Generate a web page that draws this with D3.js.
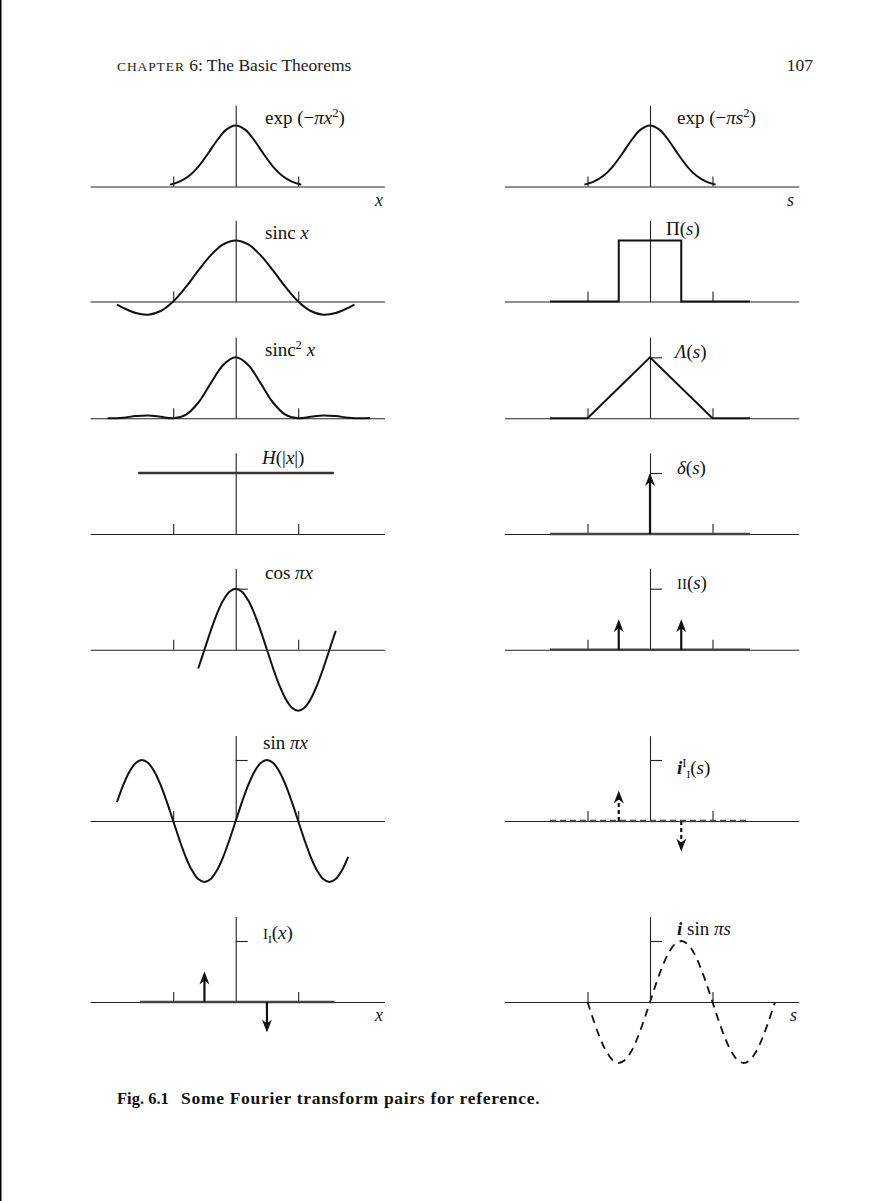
<!DOCTYPE html>
<html><head><meta charset="utf-8">
<script src="https://cdn.jsdelivr.net/npm/d3@7"></script>
<style>body{margin:0;background:#fff} svg{display:block}</style>
</head><body><script>
// ---------------- data ----------------
const unitTicks = [-1, 1];
const gaussX = [-1.05,-0.9,-0.75,-0.6,-0.45,-0.3,-0.15,0,0.15,0.3,0.45,0.6,0.75,0.9,1.05];
const gaussY = [0.031,0.079,0.171,0.323,0.529,0.754,0.932,1,0.932,0.754,0.529,0.323,0.171,0.079,0.031];
const sincX = [-1.9,-1.8,-1.6,-1.4,-1.2,-1,-0.8,-0.6,-0.4,-0.2,0,0.2,0.4,0.6,0.8,1,1.2,1.4,1.6,1.8,1.9];
const sincY = [-0.052,-0.104,-0.189,-0.216,-0.156,0,0.234,0.505,0.757,0.935,1,0.935,0.757,0.505,0.234,0,-0.156,-0.216,-0.189,-0.104,-0.052];
const sinc2X = [-2.05,-2,-1.8,-1.6,-1.4,-1.2,-1,-0.8,-0.6,-0.4,-0.2,0,0.2,0.4,0.6,0.8,1,1.2,1.4,1.6,1.8,2,2.15];
const sinc2Y = [0.001,0,0.011,0.036,0.047,0.024,0,0.055,0.255,0.573,0.875,1,0.875,0.573,0.255,0.055,0,0.024,0.047,0.036,0.011,0,0.005];
const rectX = [-1.6,-0.5,-0.5,0.5,0.5,1.6];
const rectY = [0,0,1,1,0,0];
const triX = [-1.6,-1,0,1,1.6];
const triY = [0,0,1,0,0];
const heavX = [-1.56,1.57];
const heavY = [1,1];
const deltaX = [0];
const deltaH = [1];
const evenPairX = [-0.5,0.5];
const evenPairH = [0.5,0.5];
const oddPairX = [-0.5,0.5];
const oddPairH = [0.5,-0.5];
const cosX = [-0.6,-0.5,-0.4,-0.3,-0.2,-0.1,0,0.1,0.2,0.3,0.4,0.5,0.6,0.7,0.8,0.9,1,1.1,1.2,1.3,1.4,1.5,1.6];
const cosY = [-0.309,0,0.309,0.588,0.809,0.951,1,0.951,0.809,0.588,0.309,0,-0.309,-0.588,-0.809,-0.951,-1,-0.951,-0.809,-0.588,-0.309,0,0.309];
const sinX = [-1.9,-1.8,-1.7,-1.6,-1.5,-1.4,-1.3,-1.2,-1.1,-1,-0.9,-0.8,-0.7,-0.6,-0.5,-0.4,-0.3,-0.2,-0.1,0,0.1,0.2,0.3,0.4,0.5,0.6,0.7,0.8,0.9,1,1.1,1.2,1.3,1.4,1.5,1.6,1.7,1.8];
const sinY = [0.309,0.588,0.809,0.951,1,0.951,0.809,0.588,0.309,0,-0.309,-0.588,-0.809,-0.951,-1,-0.951,-0.809,-0.588,-0.309,0,0.309,0.588,0.809,0.951,1,0.951,0.809,0.588,0.309,0,-0.309,-0.588,-0.809,-0.951,-1,-0.951,-0.809,-0.588];
const isinX = [-1,-0.9,-0.8,-0.7,-0.6,-0.5,-0.4,-0.3,-0.2,-0.1,0,0.1,0.2,0.3,0.4,0.5,0.6,0.7,0.8,0.9,1,1.1,1.2,1.3,1.4,1.5,1.6,1.7,1.8,1.9,2];
const isinY = [0,-0.309,-0.588,-0.809,-0.951,-1,-0.951,-0.809,-0.588,-0.309,0,0.309,0.588,0.809,0.951,1,0.951,0.809,0.588,0.309,0,-0.309,-0.588,-0.809,-0.951,-1,-0.951,-0.809,-0.588,-0.309,0];
const baseExtent = [-1.6, 1.6];
const oddBaseExtent = [-1.53, 1.58];

// ---------------- layout ----------------
const W = 887, H = 1201;
const FONT = "'Liberation Serif', 'DejaVu Serif', serif";
const LEFT_CX = 235.7, RIGHT_CX = 650;
const rowY = [186.5, 301.5, 418.3, 534, 649.7, 821, 1002];
const XU = 62.5, YU = 61;
const LS = 19;

const svg = d3.select("body").append("svg").attr("width", W).attr("height", H)
  .style("font-family", FONT);
svg.append("rect").attr("width", W).attr("height", H).attr("fill", "#fff");
svg.append("line").attr("x1", 0.75).attr("x2", 0.75).attr("y1", 0).attr("y2", H)
  .attr("stroke", "#000").attr("stroke-width", 1.5);

// header
const hdr = svg.append("text").attr("x", 117).attr("y", 71).attr("font-size", 17.5).attr("fill", "#222");
hdr.append("tspan").text("CHAPTER").attr("font-size", 13.5).attr("letter-spacing", 0.9);
hdr.append("tspan").text(" 6: The Basic Theorems");
svg.append("text").attr("x", 813).attr("y", 71).attr("text-anchor", "end").attr("font-size", 17.5)
  .attr("fill", "#222").text("107");

// caption
svg.append("text").attr("x", 117).attr("y", 1104).attr("font-size", 16.5).attr("font-weight", "bold")
  .attr("fill", "#111").text("Fig. 6.1");
svg.append("text").attr("x", 181).attr("y", 1104).attr("font-size", 17.5).attr("font-weight", "bold")
  .attr("letter-spacing", 0.7).attr("fill", "#111").text("Some Fourier transform pairs for reference.");

function makePanel(cx, y0, unitTick, vtop) {
  const x = d3.scaleLinear().domain([-2.33, 2.38]).range([cx - 2.33 * XU, cx + 2.38 * XU]);
  const y = d3.scaleLinear().domain([0, vtop || 1.33]).range([y0, y0 - (vtop || 1.33) * YU]);
  const g = svg.append("g");
  g.append("g").attr("transform", `translate(0,${y0})`)
    .call(d3.axisTop(x).tickValues(unitTicks).tickSize(10).tickSizeOuter(0).tickFormat(""));
  g.append("g").attr("transform", `translate(${x(0)},0)`)
    .call(d3.axisRight(y).tickValues(unitTick ? [1] : []).tickSize(12).tickSizeOuter(0).tickFormat(""));
  g.selectAll(".domain, .tick line").attr("stroke", "#222").attr("stroke-width", 1.1);
  return { g, x, y };
}

function curve(p, xs, ys, opts = {}) {
  const line = d3.line().x(d => p.x(d[0])).y(d => p.y(d[1]));
  if (opts.smooth) line.curve(d3.curveCatmullRom.alpha(0.5));
  p.g.append("path").datum(d3.zip(xs, ys)).attr("d", line)
    .attr("fill", "none").attr("stroke", opts.color || "#111")
    .attr("stroke-width", opts.width || 2)
    .attr("stroke-dasharray", opts.dash || null)
    .attr("stroke-linejoin", "miter");
}

function baseline(p, ext, dash) {
  p.g.append("line").attr("x1", p.x(ext[0])).attr("x2", p.x(ext[1]))
    .attr("y1", p.y(0)).attr("y2", p.y(0))
    .attr("stroke", "#444").attr("stroke-width", 2.6)
    .attr("stroke-dasharray", dash || null);
}

function impulses(p, xs, hs, dash) {
  xs.forEach((xv, i) => {
    const h = hs[i], px = p.x(xv), base = p.y(0), tip = p.y(h);
    const s = h >= 0 ? 1 : -1;
    p.g.append("line").attr("x1", px).attr("x2", px).attr("y1", base).attr("y2", tip + s * 8)
      .attr("stroke", "#111").attr("stroke-width", 2.2)
      .attr("stroke-dasharray", dash || null);
    p.g.append("path")
      .attr("d", `M${px},${tip} L${px - 5},${tip + s * 13} L${px},${tip + s * 9} L${px + 5},${tip + s * 13} Z`)
      .attr("fill", "#111");
  });
}

// label: parts = [text, style] ; style: r, i, b (bold italic), sup, sub, sc
function label(x, y, parts, size) {
  size = size || LS;
  const t = svg.append("text").attr("x", x).attr("y", y).attr("font-size", size).attr("fill", "#111");
  let shift = 0;
  parts.forEach(([txt, st]) => {
    const ts = t.append("tspan").text(txt);
    let target = 0;
    if (st === "i") ts.attr("font-style", "italic");
    if (st === "b") ts.attr("font-style", "italic").attr("font-weight", "bold");
    if (st === "sup") { ts.attr("font-size", size * 0.66); target = -7; }
    if (st === "sub") { ts.attr("font-size", size * 0.6); target = 4; }
    if (st === "sc") { ts.attr("font-size", size * 0.78); }
    if (target !== shift) { ts.attr("dy", target - shift); shift = target; }
  });
  return t;
}

function axisLetter(x, y, s) {
  svg.append("text").attr("x", x).attr("y", y).attr("font-size", 18).attr("font-style", "italic")
    .attr("fill", "#222").text(s);
}

// ---------- row 1 ----------
let p = makePanel(LEFT_CX, rowY[0], false);
curve(p, gaussX, gaussY, { smooth: true });
label(265, rowY[0] - 63, [["exp (−", "r"], ["π", "i"], ["x", "i"], ["2", "sup"], [")", "r"]]);
p = makePanel(RIGHT_CX, rowY[0], false);
curve(p, gaussX, gaussY, { smooth: true });
label(677, rowY[0] - 63, [["exp (−", "r"], ["π", "i"], ["s", "i"], ["2", "sup"], [")", "r"]]);
axisLetter(375, rowY[0] + 19, "x");
axisLetter(787, rowY[0] + 19, "s");

// ---------- row 2 ----------
p = makePanel(LEFT_CX, rowY[1], false);
curve(p, sincX, sincY, { smooth: true });
label(265, rowY[1] - 63, [["sinc ", "r"], ["x", "i"]]);
p = makePanel(RIGHT_CX, rowY[1], false);
curve(p, rectX, rectY, {});
label(666, rowY[1] - 67, [["Π(", "r"], ["s", "i"], [")", "r"]]);

// ---------- row 3 ----------
p = makePanel(LEFT_CX, rowY[2], false);
curve(p, sinc2X, sinc2Y, { smooth: true });
label(265, rowY[2] - 62, [["sinc", "r"], ["2", "sup"], [" ", "r"], ["x", "i"]]);
p = makePanel(RIGHT_CX, rowY[2], true);
curve(p, triX, triY, {});
label(675, rowY[2] - 60, [["Λ", "i"], ["(", "r"], ["s", "i"], [")", "r"]]);

// ---------- row 4 ----------
p = makePanel(LEFT_CX, rowY[3], false);
curve(p, heavX, heavY, { width: 2.6, color: "#333" });
label(262, rowY[3] - 70, [["H", "i"], ["(|", "r"], ["x", "i"], ["|)", "r"]]);
p = makePanel(RIGHT_CX, rowY[3], true);
baseline(p, baseExtent);
impulses(p, deltaX, deltaH);
label(677, rowY[3] - 60, [["δ", "i"], ["(", "r"], ["s", "i"], [")", "r"]]);

// ---------- row 5 ----------
p = makePanel(LEFT_CX, rowY[4], true);
curve(p, cosX, cosY, { smooth: true });
label(265, rowY[4] - 71, [["cos ", "r"], ["π", "i"], ["x", "i"]]);
p = makePanel(RIGHT_CX, rowY[4], true);
baseline(p, baseExtent);
impulses(p, evenPairX, evenPairH);
label(677, rowY[4] - 61, [["II", "sc"], ["(", "r"], ["s", "i"], [")", "r"]]);

// ---------- row 6 ----------
p = makePanel(LEFT_CX, rowY[5], true, 1.4);
curve(p, sinX, sinY, { smooth: true });
label(263, rowY[5] - 72, [["sin ", "r"], ["π", "i"], ["x", "i"]]);
p = makePanel(RIGHT_CX, rowY[5], true, 1.4);
baseline(p, baseExtent, "6,4");
impulses(p, oddPairX, oddPairH, "4,3");
label(677, rowY[5] - 47, [["i", "b"], ["I", "sup"], ["I", "sub"], ["(", "r"], ["s", "i"], [")", "r"]]);

// ---------- row 7 ----------
p = makePanel(LEFT_CX, rowY[6], true, 1.4);
baseline(p, oddBaseExtent);
impulses(p, oddPairX, oddPairH);
label(263, rowY[6] - 63, [["I", "sc"], ["I", "sub"], ["(", "r"], ["x", "i"], [")", "r"]]);
p = makePanel(RIGHT_CX, rowY[6], true, 1.4);
curve(p, isinX, isinY, { smooth: true, dash: "8,6", width: 1.8 });
label(677, rowY[6] - 67, [["i", "b"], [" sin ", "r"], ["π", "i"], ["s", "i"]]);
axisLetter(375, rowY[6] + 19, "x");
axisLetter(790, rowY[6] + 19, "s");
</script></body></html>
